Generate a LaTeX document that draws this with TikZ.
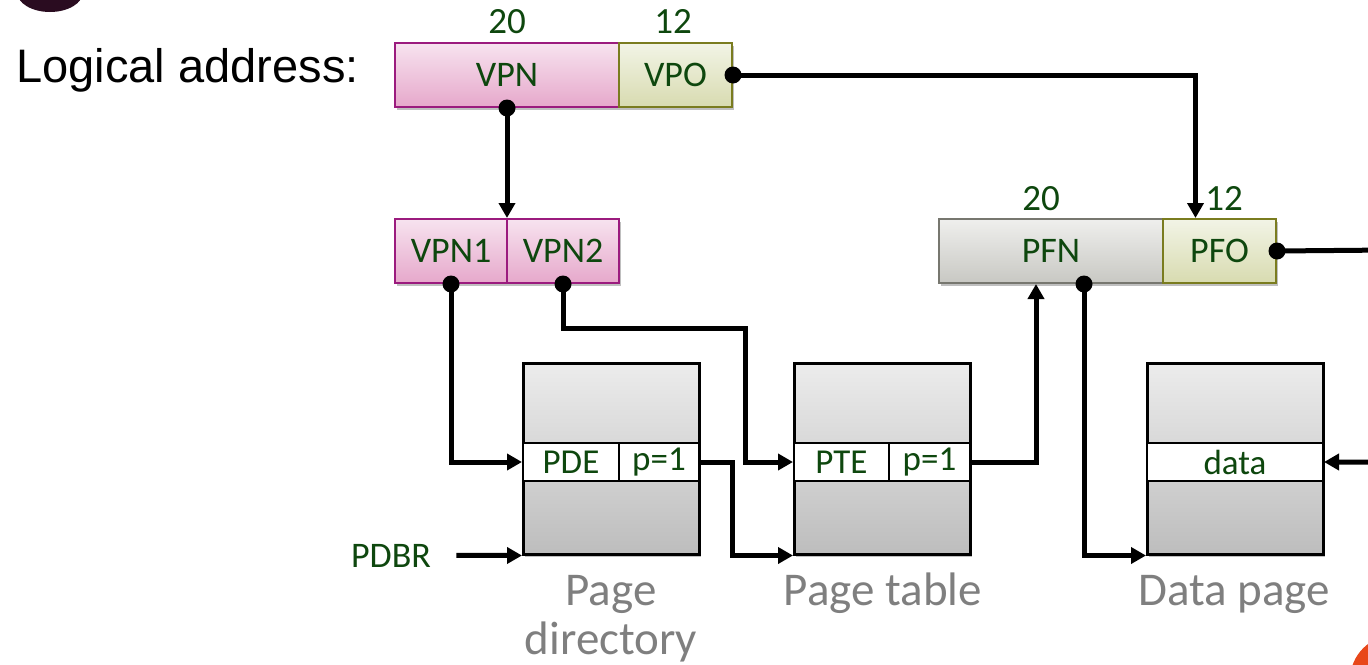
\documentclass[tikz,border=0pt]{standalone}
\usepackage{fontspec}
\setmainfont{Carlito}
\newfontfamily\arialfont{Liberation Sans}
\usetikzlibrary{arrows.meta,shadows,calc}
\definecolor{tgreen}{HTML}{0E470E}
\definecolor{lblgray}{HTML}{7F7F7F}
\definecolor{vpnTop}{HTML}{F7E3EF}
\definecolor{vpnBot}{HTML}{E6A8CB}
\definecolor{vpnBorder}{HTML}{9B1B7E}
\definecolor{offTop}{HTML}{F2F4E6}
\definecolor{offBot}{HTML}{D8DBB0}
\definecolor{offBorder}{HTML}{7A7C1F}
\definecolor{pfnTop}{HTML}{EFEFED}
\definecolor{pfnBot}{HTML}{C8C8C3}
\definecolor{pfnBorder}{HTML}{77776F}
\definecolor{pgTop}{HTML}{ECECEC}
\definecolor{pgBot}{HTML}{BDBDBD}
\definecolor{logoDark}{HTML}{2A0C20}
\definecolor{logoOrange}{HTML}{E8471A}
\tikzset{
  boxshadow/.style={drop shadow={shadow xshift=2pt,shadow yshift=-3pt,opacity=0.25,fill=black}},
  cell/.style={rectangle,inner sep=0pt,anchor=north west,minimum height=64pt,
    line width=2pt,text=tgreen,font=\fontsize{36}{40}\selectfont},
  vpncell/.style={cell,draw=vpnBorder,top color=vpnTop,bottom color=vpnBot,boxshadow},
  offcell/.style={cell,draw=offBorder,top color=offTop,bottom color=offBot,boxshadow},
  pfncell/.style={cell,draw=pfnBorder,top color=pfnTop,bottom color=pfnBot,boxshadow},
  pagebox/.style={rectangle,inner sep=0pt,anchor=north west,minimum width=176pt,
    minimum height=191pt,draw=black,line width=2.5pt,top color=pgTop,bottom color=pgBot,boxshadow},
  rowcell/.style={rectangle,inner sep=0pt,anchor=north west,minimum height=38pt,
    draw=black,line width=2pt,fill=white,text=tgreen,font=\fontsize{35}{38}\selectfont},
  bits/.style={anchor=base,text=tgreen,font=\fontsize{37}{40}\selectfont},
  pagelabel/.style={anchor=base,align=center,inner sep=0pt,text=lblgray,font=\fontsize{47}{49}\selectfont},
  conn/.style={line width=5pt,draw=black},
  arr/.style={conn,-{Triangle[length=15pt,width=16pt]}},
  dot/.style={fill=black}
}
\begin{document}
\begin{tikzpicture}[x=1pt,y=-1pt]
\useasboundingbox (0,0) rectangle (1368,664);
% decorative corner shapes
\fill[logoDark] (50,-8) ellipse (33 and 20);
\fill[logoOrange] (1395,680) circle (45);

% logical address
\node[anchor=base west,font=\arialfont\fontsize{47}{52}\selectfont] (lalabel) at (13,82) {Logical address:};
\node[vpncell,minimum width=224pt] (vpn) at (394,42) {VPN};
\node[offcell,minimum width=113pt] (vpo) at (618,42) {VPO};
\node[bits] (b20a) at (507,33) {20};
\node[bits] (b12a) at (673,33) {12};

% split VPN
\node[vpncell,minimum width=112pt] (vpn1) at (394,218) {VPN1};
\node[vpncell,minimum width=112pt] (vpn2) at (506,218) {VPN2};

% physical address
\node[pfncell,minimum width=224pt] (pfn) at (938,218) {PFN};
\node[offcell,minimum width=113pt] (pfo) at (1162,218) {PFO};
\node[bits] (b20b) at (1041,210) {20};
\node[bits] (b12b) at (1224,210) {12};

% page directory
\node[pagebox] (pd) at (522,362) {};
\node[rowcell,minimum width=96pt] (pde) at (522,442) {PDE};
\node[rowcell,minimum width=80pt] (pdp) at (618,442) {p=1};
% page table
\node[pagebox] (pt) at (793,362) {};
\node[rowcell,minimum width=95pt] (pte) at (793,442) {PTE};
\node[rowcell,minimum width=81pt] (ptp) at (888,442) {p=1};
% data page
\node[pagebox] (dp) at (1146,362) {};
\node[rowcell,minimum width=176pt] (data) at (1146,442) {data};

% labels
\node[pagelabel] (lpd) at (611,654) {Page\\directory};
\node[pagelabel] (lpt) at (883,605) {Page table};
\node[pagelabel] (ldp) at (1234,605) {Data page};
\node[anchor=base,text=tgreen,font=\fontsize{36}{40}\selectfont] (pdbr) at (391,567) {PDBR};

% waypoints
\coordinate (bend2) at (745,328);
\coordinate (offR1) at (1390,250);

% connectors
\draw[arr] (vpn.south) -- (vpn.south |- vpn1.north);
\draw[arr] (vpo.east) -| ([xshift=-24pt]pfo.north);
\draw[arr] (vpn1.south) |- (pde.west);
\draw[arr] (vpn2.south) |- (bend2) |- (pte.west);
\draw[arr] (pdp.east) -- ++(32,0) |- (pt.south west);
\draw[arr] (ptp.east) -| ([xshift=-15pt]pfn.south);
\draw[arr] ([xshift=33pt]pfn.south) |- (dp.south west);
\draw[arr] (pfo.east) -- (offR1) |- (data.east);
\draw[arr] ([xshift=22pt]pdbr.east) -- (pd.south west);

% dots
\fill[dot] (vpn.south) circle (8.5);
\fill[dot] (vpo.east) circle (8.5);
\fill[dot] (vpn1.south) circle (8.5);
\fill[dot] (vpn2.south) circle (8.5);
\fill[dot] ([xshift=33pt]pfn.south) circle (8.5);
\fill[dot] (pfo.east) circle (8.5);
\end{tikzpicture}
\end{document}
